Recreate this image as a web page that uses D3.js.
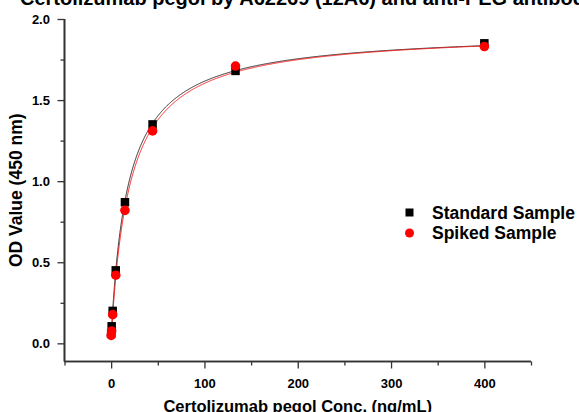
<!DOCTYPE html>
<html>
<head>
<meta charset="utf-8">
<script src="https://cdn.jsdelivr.net/npm/d3@7"></script>
<style>
  html, body { margin: 0; padding: 0; background: #fff; }
  svg { display: block; font-family: Arial, "Liberation Sans", Helvetica, sans-serif; }
</style>
</head>
<body>
<svg id="chart" width="579" height="412"></svg>
<script>
// ---- data ----
const titleText = "Certolizumab pegol by A62269 (12A6) and anti-PEG antibody";
const xTitle = "Certolizumab pegol Conc. (ng/mL)";
const yTitle = "OD Value (450 nm)";
const seriesNames = ["Standard Sample", "Spiked Sample"];
const concentrations = [0, 0.55, 1.65, 4.94, 14.8, 44.4, 133.3, 400];
const standardOD = [0.06, 0.105, 0.20, 0.45, 0.87, 1.35, 1.68, 1.85];
const spikedOD   = [0.049, 0.076, 0.177, 0.42, 0.82, 1.31, 1.71, 1.83];
// four-parameter logistic fit parameters [A(bottom), B(slope), C(EC50), D(top)]
const standardFit = [0.03, 0.96, 18.5, 1.93];
const spikedFit   = [0.02, 0.98, 20.0, 1.93];
const xTicks = [0, 100, 200, 300, 400];
const xMinorTicks = [-50, 50, 150, 250, 350, 450];
const yTicks = [0.0, 0.5, 1.0, 1.5, 2.0];
const yMinorTicks = [0.25, 0.75, 1.25, 1.75];

// ---- layout ----
const svg = d3.select("#chart");
const pLeft = 64.5, pRight = 531, pTop = 19, pBottom = 361.5;
const x = d3.scaleLinear().domain([-50, 450]).range([pLeft, pRight]);
const y = d3.scaleLinear().domain([-0.112, 2.0]).range([pBottom, pTop]);
const axisColor = "#333";

// title (cut off at the top, as in the reference)
svg.append("text").attr("x", 20).attr("y", 4.5)
  .attr("font-size", 20).attr("font-weight", "bold").attr("fill", "#000")
  .text(titleText);

// axes
const gx = svg.append("g").attr("transform", `translate(0,${pBottom})`);
gx.call(d3.axisBottom(x).tickValues(xTicks).tickSize(7).tickFormat(d3.format("d")));
gx.append("g").call(d3.axisBottom(x).tickValues(xMinorTicks).tickSize(4).tickFormat(""));
const gy = svg.append("g").attr("transform", `translate(${pLeft},0)`);
gy.call(d3.axisLeft(y).tickValues(yTicks).tickSize(7).tickFormat(d3.format(".1f")));
gy.append("g").call(d3.axisLeft(y).tickValues(yMinorTicks).tickSize(4).tickFormat(""));

[gx, gy].forEach(g => {
  g.selectAll(".domain").attr("stroke", axisColor).attr("stroke-width", 1.6);
  g.selectAll(".tick line").attr("stroke", axisColor).attr("stroke-width", 1.3);
  g.selectAll(".tick text").attr("font-size", 13).attr("font-weight", "bold")
    .attr("fill", "#000").attr("font-family", "Arial, 'Liberation Sans', sans-serif");
});
gx.selectAll(".domain").attr("d", `M${pLeft},0H${pRight}`);
gy.selectAll(".domain").attr("d", `M0,${pTop}V${pBottom}`);
gx.selectAll(".tick text").attr("dy", "1.25em");
gy.selectAll(".tick text").attr("dx", "-0.35em");

// axis titles
svg.append("text").attr("x", (pLeft + pRight) / 2).attr("y", 411.5)
  .attr("text-anchor", "middle").attr("font-size", 16.5).attr("font-weight", "bold")
  .text(xTitle);
svg.append("text").attr("transform", `translate(22,${(pTop + pBottom) / 2}) rotate(-90)`)
  .attr("text-anchor", "middle").attr("font-size", 17.5).attr("font-weight", "bold")
  .text(yTitle);

// fitted curves
const fp = (p, c) => p[3] + (p[0] - p[3]) / (1 + Math.pow(c / p[2], p[1]));
const curveX = d3.range(0, 1001).map(i => 400 * Math.pow(i / 1000, 2.2));
const line = d3.line().x(d => x(d[0])).y(d => y(d[1]));
svg.append("path").datum(curveX.map(c => [c, fp(standardFit, c)]))
  .attr("d", line).attr("fill", "none").attr("stroke", "#222").attr("stroke-width", 1);
svg.append("path").datum(curveX.map(c => [c, fp(spikedFit, c)]))
  .attr("d", line).attr("fill", "none").attr("stroke", "#ff1a1a").attr("stroke-width", 1);

// points
const sq = 8.5;
svg.append("g").selectAll("rect").data(concentrations.map((c, i) => [c, standardOD[i]]))
  .join("rect")
  .attr("x", d => x(d[0]) - sq / 2).attr("y", d => y(d[1]) - sq / 2)
  .attr("width", sq).attr("height", sq).attr("fill", "#000");
svg.append("g").selectAll("circle").data(concentrations.map((c, i) => [c, spikedOD[i]]))
  .join("circle")
  .attr("cx", d => x(d[0])).attr("cy", d => y(d[1])).attr("r", 4.8).attr("fill", "#ff0000");

// legend
const legend = svg.append("g");
legend.append("rect").attr("x", 409.5 - 4).attr("y", 212.5 - 4).attr("width", 8).attr("height", 8).attr("fill", "#000");
legend.append("circle").attr("cx", 409.5).attr("cy", 233).attr("r", 4.5).attr("fill", "#ff0000");
legend.selectAll("text").data(seriesNames).join("text")
  .attr("x", 432).attr("y", (d, i) => 218.5 + i * 20.5)
  .attr("font-size", 17.5).attr("font-weight", "bold").attr("fill", "#000")
  .text(d => d);
</script>
</body>
</html>
